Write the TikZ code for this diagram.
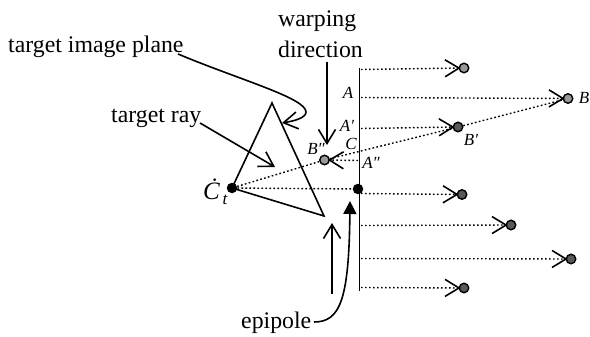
\documentclass[tikz,border=0pt]{standalone}
\usepackage{fontspec}
\setmainfont{Liberation Serif}
\usetikzlibrary{arrows.meta}
\tikzset{
	lightdot/.style={circle, draw=black, line width=1.4pt, fill=black!40, minimum size=9.5pt, inner sep=0pt},
	darkdot/.style={circle, draw=black, line width=1.4pt, fill=black!65, minimum size=9.5pt, inner sep=0pt},
	blackdot/.style={circle, fill=black, minimum size=10.5pt, inner sep=0pt},
	ray/.style={dotted, line width=1.4pt, dash pattern=on 1.7pt off 2.3pt, shorten >=-2pt, -{Straight Barb[length=14pt, width=17pt, line width=1.6pt]}},
	plain/.style={dotted, line width=1.4pt, dash pattern=on 1.7pt off 2.3pt},
	pointer/.style={line width=1.6pt, -{Straight Barb[length=14pt, width=17pt, line width=1.6pt]}},
	bigtext/.style={font=\fontsize{23.8}{26}\selectfont, inner sep=0pt},
	smalltext/.style={font=\fontsize{17}{19}\selectfont\itshape, inner sep=0pt}
}
\begin{document}
\begin{tikzpicture}[x=1pt, y=-1pt]
	\useasboundingbox (0,0) rectangle (590,337);
	
	\coordinate (T) at (272,103);
	\coordinate (Ct) at (232,188);
	\coordinate (R) at (324,216);
	\coordinate (Ltop) at (359.5,68);
	\coordinate (Lbot) at (359.5,291);
	
	\coordinate (S1) at (361,69.5);
	\coordinate (S2) at (361,97.5);
	\coordinate (S3) at (361,128.5);
	\coordinate (S4) at (358,160.5);
	\coordinate (S5) at (361,193.5);
	\coordinate (S6) at (361,225.5);
	\coordinate (S7) at (361,258.5);
	\coordinate (S8) at (361,287.5);
	
	\node[lightdot] (P1) at (464,68) {};
	\node[lightdot] (B) at (568,98.5) {};
	\node[darkdot] (Bs) at (458,127) {};
	\node[lightdot] (Bss) at (324.5,160) {};
	\node[darkdot] (P5) at (462,194.5) {};
	\node[darkdot] (P6) at (511,225) {};
	\node[darkdot] (P7) at (571,259) {};
	\node[darkdot] (P8) at (464,288) {};
	\node[blackdot] (Cdot) at (Ct) {};
	\node[blackdot] (E) at (358,189) {};
	
	\node[bigtext, anchor=base west] (warp) at (278,27) {warping};
	\node[bigtext, anchor=base west] (dir) at (278,58) {direction};
	\node[bigtext, anchor=base west] (plane) at (8,53) {target image plane};
	\node[bigtext, anchor=base west] (tray) at (111,123) {target ray};
	\node[bigtext, anchor=base west] (epi) at (241,328) {epipole};
	
	\node[smalltext] (lA) at (348,93) {A};
	\node[smalltext] (lAs) at (347,126) {A′};
	\node[smalltext] (lC) at (351,144) {C};
	\node[smalltext] (lAss) at (371,163) {A″};
	\node[smalltext] (lBss) at (316,149) {B″};
	\node[smalltext] (lBs) at (471,140) {B′};
	\node[smalltext] (lB) at (584,98) {B};
	\node[font=\fontsize{25}{27}\selectfont\itshape, inner sep=0pt, anchor=base west] (lC1) at (203,200) {Ċ\raisebox{-5pt}{\fontsize{17}{19}\selectfont\,t}};
	
	\draw[line width=1.6pt] (T) -- (Ct) -- (R) -- cycle;
	\draw[line width=1.2pt] (Ltop) -- (Lbot);
	
	\draw[ray] (S1) -- (P1);
	\draw[ray] (S2) -- (B);
	\draw[ray] (S3) -- (Bs);
	\draw[ray] (S4) -- (Bss);
	\draw[ray] (S5) -- (P5);
	\draw[ray] (S6) -- (P6);
	\draw[ray] (S7) -- (P7);
	\draw[ray] (S8) -- (P8);
	
	\draw[plain] (Cdot) -- (Bss);
	\draw[plain] (Bss) -- (Bs);
	\draw[plain] (Bs) -- (B);
	\draw[plain] (Cdot) -- (E);
	
	\coordinate (plane1) at (178,54);
	\coordinate (plane2) at (282,123);
	\coordinate (ray1) at (200,123);
	\coordinate (ray2) at (275,167);
	\coordinate (warp1) at (327,62);
	\coordinate (warp2) at (327,145);
	\coordinate (up1) at (332,294);
	\coordinate (up2) at (332,223);
	\coordinate (epi1) at (314,322);
	\coordinate (epi2) at (350,201);
	
	\draw[pointer] (plane1) .. controls (240,80) and (306,98) .. (306,112) .. controls (306,118) and (294,121) .. (plane2);
	\draw[pointer] (ray1) -- (ray2);
	\draw[pointer] (warp1) -- (warp2);
	\draw[pointer] (up1) -- (up2);
	\draw[line width=1.6pt, -{Triangle[length=13pt, width=13pt]}] (epi1) .. controls (340,322) and (349,300) .. (epi2);
\end{tikzpicture}
\end{document}
